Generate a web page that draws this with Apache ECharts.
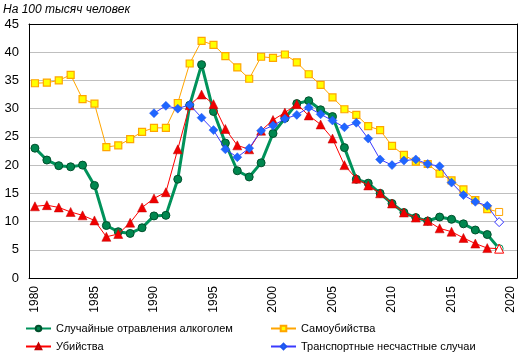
<!DOCTYPE html>
<html><head><meta charset="utf-8">
<script src="https://cdn.jsdelivr.net/npm/echarts@6/dist/echarts.min.js"></script>
<style>html,body{margin:0;padding:0;background:#fff}#c{width:532px;height:362px}</style>
</head><body><div id="c"></div>
<script>
const years = [];
for (let y = 1980; y <= 2020; y++) years.push(String(y));
const yTicks = [0,5,10,15,20,25,30,35,40,45];
const alcohol = [23.0,20.9,19.9,19.7,20.0,16.4,9.3,8.2,7.9,8.9,11.0,11.1,17.5,30.6,37.8,29.5,23.9,19.0,17.9,20.4,25.6,28.3,30.9,31.4,29.8,28.6,23.1,17.5,16.8,15.0,13.2,11.6,10.7,10.1,10.8,10.4,9.6,8.5,7.7,5.2];
const homicide = [12.7,12.9,12.5,11.7,11.1,10.2,7.3,7.8,9.8,12.5,14.1,15.2,22.8,30.6,32.5,30.8,26.4,23.5,22.8,26.1,28.0,29.3,30.8,28.8,27.2,24.7,20.0,17.6,16.4,15.0,13.2,11.6,10.7,10.1,8.8,8.2,7.1,6.1,5.3,5.2];
const suicide = [34.5,34.6,35.0,36.0,31.7,30.9,23.2,23.5,24.6,25.9,26.6,26.6,31.0,38.0,42.0,41.3,39.3,37.3,35.3,39.2,39.0,39.6,38.2,36.1,34.2,32.0,29.9,28.9,26.9,26.2,23.4,21.8,20.6,20.2,18.5,17.3,15.7,13.8,12.2,11.7];
const transport = [null,null,null,null,null,null,null,null,null,null,29.2,30.5,30.0,30.7,28.4,26.2,22.8,21.4,23.0,26.1,27.0,28.2,28.9,30.2,29.0,27.9,26.7,27.5,24.7,21.0,20.0,20.8,21.0,20.2,19.8,16.9,14.7,13.5,12.8,9.9];
const names = ['Случайные отравления алкоголем','Убийства','Самоубийства','Транспортные несчастные случаи'];

function lastHollow(arr, border) {
  return arr.map((v, i) => i === arr.length - 1 ? {value: v, itemStyle: {color: '#fff', borderColor: border, borderWidth: 1}} : v);
}
const font = 'Arial, "Liberation Sans", sans-serif';
const legendText = {fontFamily: font, fontSize: 11, color: '#000'};
const chart = echarts.init(document.getElementById('c'), null, {renderer: 'canvas'});
chart.setOption({
  animation: false,
  backgroundColor: '#fff',
  title: {text: 'На 100 тысяч человек', left: 3, top: 4, padding: 0,
    textStyle: {fontFamily: font, fontSize: 12, fontStyle: 'italic', fontWeight: 'normal', color: '#000'}},
  grid: {left: 29, right: 15, top: 24, bottom: 84, containLabel: false},
  xAxis: [{
    type: 'category', data: years, boundaryGap: true,
    axisLine: {show: true, lineStyle: {color: '#000', width: 1}},
    axisTick: {show: false},
    axisLabel: {interval: 4, rotate: 90, margin: 8, fontSize: 12, fontFamily: font, color: '#000'},
    splitLine: {show: false}
  }, {
    type: 'category', data: years, position: 'top',
    axisLine: {show: true, onZero: false, lineStyle: {color: '#000', width: 1}},
    axisTick: {show: false}, axisLabel: {show: false}
  }],
  yAxis: [{
    type: 'value', min: 0, max: 45, interval: 5,
    axisLine: {show: true, lineStyle: {color: '#000', width: 1}},
    axisTick: {show: false},
    axisLabel: {margin: 10, fontSize: 13, fontFamily: font, color: '#000',
      formatter: v => yTicks.includes(v) ? String(v) : ''},
    splitLine: {show: true, lineStyle: {color: '#bfbfbf', width: 1}}
  }, {
    type: 'value', min: 0, max: 45, interval: 5, position: 'right',
    axisLine: {show: true, lineStyle: {color: '#000', width: 1}},
    axisTick: {show: false}, axisLabel: {show: false}, splitLine: {show: false}
  }],
  legend: [{
    orient: 'vertical', left: 25, top: 323, itemWidth: 25, itemHeight: 7, itemGap: 7, padding: 0,
    data: [names[0], names[1]], textStyle: legendText
  }, {
    orient: 'vertical', left: 270, top: 323, itemWidth: 25, itemHeight: 7, itemGap: 7, padding: 0,
    data: [names[2], names[3]], textStyle: legendText
  }],
  series: [{
    name: names[0], type: 'line', data: lastHollow(alcohol, '#00925a'), z: 2,
    symbol: 'circle', symbolSize: 8, showAllSymbol: true,
    lineStyle: {color: '#00925a', width: 3},
    itemStyle: {color: '#00874f', borderColor: '#00502c', borderWidth: 1}
  }, {
    name: names[1], type: 'line', data: lastHollow(homicide, '#ff0000'), z: 3,
    symbol: 'triangle', symbolSize: 9, showAllSymbol: true,
    lineStyle: {color: '#ff0000', width: 1},
    itemStyle: {color: '#f00000', borderColor: '#c00000', borderWidth: 0.5}
  }, {
    name: names[2], type: 'line', data: lastHollow(suicide, '#ffa500'), z: 4,
    symbol: 'rect', symbolSize: 7, showAllSymbol: true,
    lineStyle: {color: '#ffa500', width: 1},
    itemStyle: {color: '#ffff00', borderColor: '#ffa500', borderWidth: 1.2}
  }, {
    name: names[3], type: 'line', data: lastHollow(transport, '#3030ff'), z: 5,
    symbol: 'diamond', symbolSize: 9, showAllSymbol: true,
    lineStyle: {color: '#3a3aff', width: 1},
    itemStyle: {color: '#1f66ff', borderColor: '#1f55ee', borderWidth: 0.5}
  }]
});
</script></body></html>
